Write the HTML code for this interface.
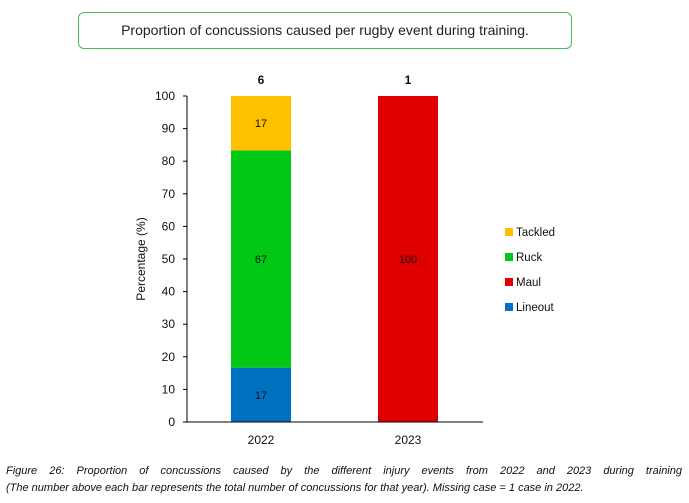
<!DOCTYPE html>
<html><head><meta charset="utf-8"><style>
body{margin:0;width:689px;height:503px;background:#fff;font-family:"Liberation Sans",sans-serif;position:relative;overflow:hidden}
#title{position:absolute;left:78px;top:12px;width:494px;height:37px;border:1.5px solid #4cb860;border-radius:6px;box-sizing:border-box;text-align:center;line-height:35px;font-size:14px;color:#222}
#cap{position:absolute;left:6px;top:463px;width:676px;font-size:11px;font-style:italic;line-height:17px;color:#111}
.l1{text-align:justify;text-align-last:justify;white-space:nowrap}
</style></head><body>
<div id="title">Proportion of concussions caused per rugby event during training.</div>
<svg id="chart" width="689" height="503" style="position:absolute;left:0;top:0"></svg>
<div id="cap"><div class="l1">Figure 26: Proportion of concussions caused by the different injury events from 2022 and 2023 during training</div><div>(The number above each bar represents the total number of concussions for that year). Missing case = 1 case in 2022.</div></div>
<script>
const categories=["2022","2023"];
const totals=[6,1];
const seriesNames=["Lineout","Maul","Ruck","Tackled"];
const lineout=[16.67,0];
const maul=[0,100];
const ruck=[66.67,0];
const tackled=[16.67,0];
const labelsLineout=["17",""];
const labelsMaul=["","100"];
const labelsRuck=["67",""];
const labelsTackled=["17",""];
const yTicks=[0,10,20,30,40,50,60,70,80,90,100];

const colors=["#0070c0","#e00000","#00c814","#ffc000"];
const svg=document.getElementById('chart');
const NS="http://www.w3.org/2000/svg";
const x0=187,x1=483,yb=422,yt=96;
const y=v=>yb-(v/100)*(yb-yt);
const xc=i=>261+i*147;
const bw=60;
function mk(t,a,txt){const e=document.createElementNS(NS,t);for(const k in a)e.setAttribute(k,a[k]);if(txt!==undefined)e.textContent=txt;svg.appendChild(e);return e;}
const series=[lineout,maul,ruck,tackled];
const labels=[labelsLineout,labelsMaul,labelsRuck,labelsTackled];
categories.forEach((c,i)=>{
  let base=0;
  series.forEach((s,j)=>{
    const v=s[i];
    if(v>0){
      const r=mk('rect',{x:xc(i)-bw/2,y:y(base+v),width:bw,height:y(base)-y(base+v),fill:colors[j]});
      
      
      const t=mk('text',{x:xc(i),y:y(base+v/2)+4,'text-anchor':'middle','font-size':11,fill:'#111'},labels[j][i]);
      
      
    }
    base+=v;
  });
  const tt=mk('text',{x:xc(i),y:84,'text-anchor':'middle','font-size':12,'font-weight':'bold',fill:'#111'},totals[i]);
  
  
  const xl=mk('text',{x:xc(i),y:444,'text-anchor':'middle','font-size':12,fill:'#111'},c);
  
  
});
yTicks.forEach(v=>{
  const l=mk('line',{x1:183,x2:x0,y1:y(v),y2:y(v),stroke:'#000'});
  
  
  const t=mk('text',{x:175,y:y(v)+4,'text-anchor':'end','font-size':12,fill:'#111'},v);
  
  
});
const ya=mk('line',{x1:x0,x2:x0,y1:yt,y2:yb,stroke:'#000'});


const xa=mk('line',{x1:x0,x2:x1,y1:yb,y2:yb,stroke:'#000'});


const yt2=mk('text',{x:0,y:0,transform:'translate(145,259) rotate(-90)','text-anchor':'middle','font-size':12,fill:'#111'},'Percentage (%)');


const legendOrder=[3,2,1,0];
legendOrder.forEach((j,k)=>{
  const cy=232+k*25;
  const r=mk('rect',{x:505,y:cy-4,width:8,height:8,fill:colors[j]});
  
  
  const t=mk('text',{x:516,y:cy+4,'font-size':11.5,fill:'#111'},seriesNames[j]);
  
  
});
</script>
</body></html>
